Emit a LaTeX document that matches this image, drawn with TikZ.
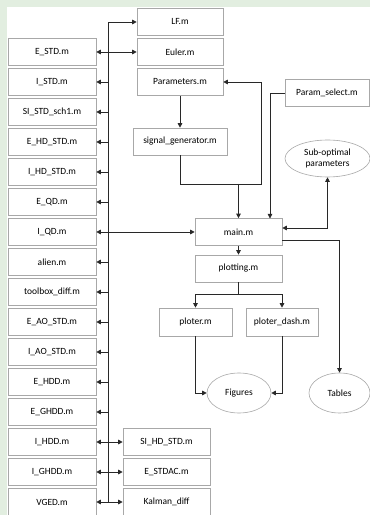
\documentclass[tikz,border=0pt]{standalone}
\usepackage{fontspec}
\setmainfont{Carlito}
\usetikzlibrary{arrows.meta,shapes.geometric}
\definecolor{pagegreen}{RGB}{226,238,224}
\definecolor{boxgray}{RGB}{168,168,168}
\definecolor{linegray}{RGB}{40,40,40}
\tikzset{
  mfile/.style={draw=boxgray,fill=white,line width=0.6bp,minimum width=88bp,minimum height=27bp,inner sep=0pt,font=\fontsize{9.5}{11}\selectfont},
  outblob/.style={ellipse,draw=boxgray,fill=white,line width=0.6bp,inner sep=0pt,align=center,font=\fontsize{9.5}{11}\selectfont},
  link/.style={linegray,line width=0.8bp},
}
\begin{document}
\begin{tikzpicture}[>={Triangle[length=4.5bp,width=4.5bp]},line join=miter]
%%
\fill [pagegreen] (0bp,0bp) rectangle (370bp,515bp);
\fill [white] (7bp,0bp) rectangle (370bp,508bp);
\useasboundingbox (0bp,0bp) rectangle (370bp,515bp);
%% left column
\node (E_STD) at (52bp,463bp) [mfile] {E\_STD.m};
  \node (I_STD) at (52bp,433bp) [mfile] {I\_STD.m};
  \node (SI_STD_sch1) at (52bp,403bp) [mfile] {SI\_STD\_sch1.m};
  \node (E_HD_STD) at (52bp,373bp) [mfile] {E\_HD\_STD.m};
  \node (I_HD_STD) at (52bp,343bp) [mfile] {I\_HD\_STD.m};
  \node (E_QD) at (52bp,313bp) [mfile] {E\_QD.m};
  \node (I_QD) at (52bp,283bp) [mfile] {I\_QD.m};
  \node (alien) at (52bp,253bp) [mfile] {alien.m};
  \node (toolbox_diff) at (52bp,223bp) [mfile] {toolbox\_diff.m};
  \node (E_AO_STD) at (52bp,193bp) [mfile] {E\_AO\_STD.m};
  \node (I_AO_STD) at (52bp,163bp) [mfile] {I\_AO\_STD.m};
  \node (E_HDD) at (52bp,133bp) [mfile] {E\_HDD.m};
  \node (E_GHDD) at (52bp,103bp) [mfile] {E\_GHDD.m};
  \node (I_HDD) at (52bp,73bp) [mfile] {I\_HDD.m};
  \node (I_GHDD) at (52bp,43bp) [mfile] {I\_GHDD.m};
  \node (VGED) at (52bp,13bp) [mfile] {VGED.m};
%% middle and right
\node (LF) at (180bp,493bp) [mfile,minimum width=86bp] {LF.m};
  \node (Euler) at (180bp,463bp) [mfile,minimum width=86bp] {Euler.m};
  \node (Parameters) at (180bp,433bp) [mfile,minimum width=86bp] {Parameters.m};
  \node (signal_generator) at (180bp,373.5bp) [mfile,minimum width=94bp] {signal\_generator.m};
  \node (Param_select) at (327bp,422bp) [mfile,minimum width=84bp] {Param\_select.m};
  \node (Sub_optimal) at (327.5bp,356.5bp) [outblob,minimum width=85bp,minimum height=37bp] {Sub-optimal\\parameters};
  \node (main) at (238.5bp,283bp) [mfile,minimum width=87bp] {main.m};
  \node (plotting) at (238.5bp,246.5bp) [mfile,minimum width=87bp] {plotting.m};
  \node (ploter) at (195.5bp,193bp) [mfile,minimum width=73bp,minimum height=28bp] {ploter.m};
  \node (ploter_dash) at (282bp,193bp) [mfile,minimum width=72bp,minimum height=28bp] {ploter\_dash.m};
  \node (Figures) at (239bp,122bp) [outblob,minimum width=64bp,minimum height=40bp] {Figures};
  \node (Tables) at (339.5bp,122bp) [outblob,minimum width=61bp,minimum height=40bp] {Tables};
  \node (SI_HD_STD) at (166.5bp,73bp) [mfile,minimum width=87bp] {SI\_HD\_STD.m};
  \node (E_STDAC) at (166.5bp,43bp) [mfile,minimum width=87bp] {E\_STDAC.m};
  \node (Kalman_diff) at (166.5bp,13bp) [mfile,minimum width=87bp] {Kalman\_diff};
%% bus
\coordinate (bus_top) at (108bp,493bp);
  \coordinate (bus_bot) at (108bp,13bp);
  \draw [link] (bus_bot) -- (bus_top);
  \draw [link,->] (bus_top) -- (LF);
  \foreach \f in {I_STD,SI_STD_sch1,E_HD_STD,I_HD_STD,E_QD,alien,toolbox_diff,E_AO_STD,I_AO_STD,E_HDD,E_GHDD}
    \draw [link,->] (\f.east -| bus_top) -- (\f);
  \draw [link,<->] (E_STD) -- (Euler);
  \draw [link,<->] (I_QD) -- (main);
  \draw [link,<->] (I_HDD) -- (SI_HD_STD);
  \draw [link,<->] (I_GHDD) -- (E_STDAC);
  \draw [link,<->] (VGED) -- (Kalman_diff);
%% inputs of main.m
\coordinate (merge) at (261bp,331bp);
  \coordinate (psel_in) at (270bp,296.5bp);
  \draw [link,->] (Parameters) -- (signal_generator);
  \draw [link,->] (signal_generator.south) |- (merge) |- (Parameters.east);
  \draw [link,->] (main.north |- merge) -- (main);
  \draw [link,->] (Param_select.west) -| (psel_in);
  \draw [link,<->] (Sub_optimal.south) |- ([yshift=4bp]main.east);
  \draw [link,->] ([yshift=-8bp]main.east) -| (Tables);
%% plotting
\coordinate (split) at (238.5bp,221bp);
  \draw [link,->] (main) -- (plotting);
  \draw [link] (plotting.south) -- (split);
  \draw [link,->] (split) -| (ploter);
  \draw [link,->] (split) -| (ploter_dash);
  \draw [link,->] (ploter.south) |- (Figures);
  \draw [link,->] (ploter_dash.south) |- (Figures);
%
\end{tikzpicture}
\end{document}
